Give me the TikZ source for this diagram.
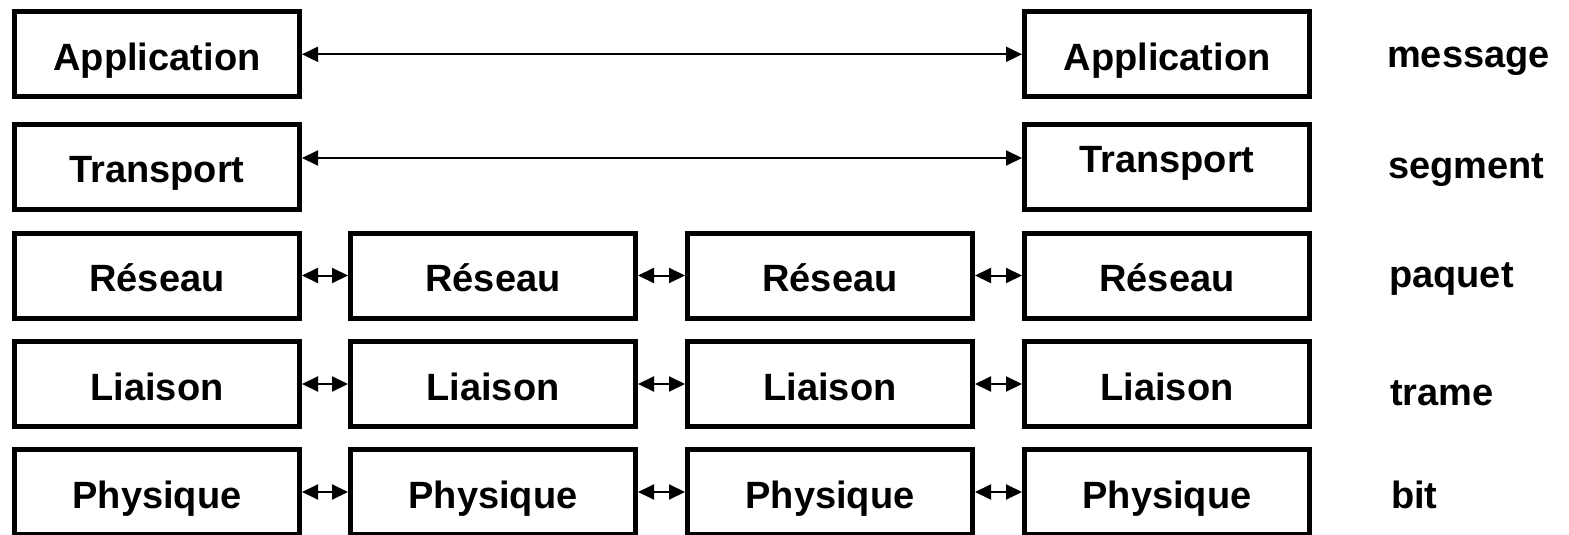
\documentclass[tikz,border=0pt]{standalone}
\usepackage{fontspec}
\setmainfont{Liberation Sans}
\usetikzlibrary{arrows.meta}
\begin{document}
\begin{tikzpicture}[x=1pt,y=-1pt,
  layerbox/.style={draw=black, line width=5pt, minimum width=285pt, minimum height=85pt,
    inner sep=0pt, text height=32pt, text depth=0pt,
    font=\fontsize{38}{45}\selectfont\bfseries},
  pdu/.style={anchor=base west, inner sep=0pt, font=\fontsize{38}{45}\selectfont\bfseries},
  link/.style={line width=2pt, {Triangle[length=16pt,width=15pt]}-{Triangle[length=16pt,width=15pt]}}]
\useasboundingbox (0,0) rectangle (1569,535);
% row 1
\node[layerbox] (a1) at (157,54.3) {Application};
\node[layerbox] (a4) at (1167,54.3) {Application};
% row 2
\node[layerbox] (t1) at (157,166.5) {Transport};
\node[layerbox] (t4) at (1167,166.5) {\raisebox{10pt}{Transport}};
% row 3
\node[layerbox] (r1) at (157,275.5) {Réseau};
\node[layerbox] (r2) at (493,275.5) {Réseau};
\node[layerbox] (r3) at (830,275.5) {Réseau};
\node[layerbox] (r4) at (1167,275.5) {Réseau};
% row 4
\node[layerbox] (l1) at (157,384) {Liaison};
\node[layerbox] (l2) at (493,384) {Liaison};
\node[layerbox] (l3) at (830,384) {Liaison};
\node[layerbox] (l4) at (1167,384) {Liaison};
% row 5
\node[layerbox] (p1) at (157,492) {Physique};
\node[layerbox] (p2) at (493,492) {Physique};
\node[layerbox] (p3) at (830,492) {Physique};
\node[layerbox] (p4) at (1167,492) {Physique};
% connectors
\draw[link] (a1.east) -- (a4.west);
\draw[link] ([yshift=8.5pt]t1.east) -- ([yshift=8.5pt]t4.west);
\draw[link] (r1.east) -- (r2.west);
\draw[link] (r2.east) -- (r3.west);
\draw[link] (r3.east) -- (r4.west);
\draw[link] (l1.east) -- (l2.west);
\draw[link] (l2.east) -- (l3.west);
\draw[link] (l3.east) -- (l4.west);
\draw[link] (p1.east) -- (p2.west);
\draw[link] (p2.east) -- (p3.west);
\draw[link] (p3.east) -- (p4.west);
% PDU labels
\node[pdu] (m1) at (1387,68) {message};
\node[pdu] (m2) at (1388,178) {segment};
\node[pdu] (m3) at (1389,287) {paquet};
\node[pdu] (m4) at (1390,405) {trame};
\node[pdu] (m5) at (1391,508) {bit};
\end{tikzpicture}
\end{document}
